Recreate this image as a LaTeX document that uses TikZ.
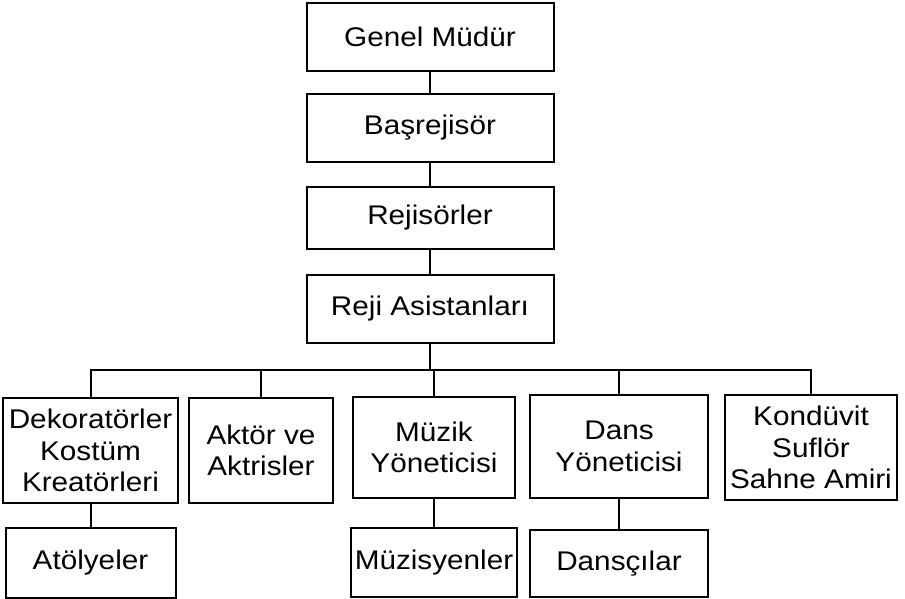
\documentclass[tikz,border=0pt]{standalone}
\usepackage{fontspec}
\setmainfont{Liberation Sans}[FakeStretch=1.1]
\tikzset{% 
	thick/.style = {line width = 1pt},
	every edge/.append style={thick},
	unit/.style = {name = #1, rectangle, draw, thick, align = center, inner sep = 2pt, font = \fontsize{13.5}{15.8}\selectfont}
}

\begin{document}
\begin{tikzpicture}[x=0.5pt, y=-0.5pt]
			\useasboundingbox (0,0) rectangle (905,599);
			\node [unit = {gm}, minimum width = 123.5pt, minimum height = 34pt] at (430,37) {Genel Müdür};
			\node [unit = {br}, minimum width = 123.5pt, minimum height = 34pt] at (430,128) {Başrejisör};
			\node [unit = {rj}, minimum width = 123.5pt, minimum height = 31pt] at (430,218) {Rejisörler};
			\node [unit = {ra}, minimum width = 123.5pt, minimum height = 34pt] at (430,309) {Reji Asistanları};
			\node [unit = {dek}, minimum width = 87.5pt, minimum height = 52.5pt] at (90.5,450.5) {Dekoratörler\\Kostüm\\Kreatörleri};
			\node [unit = {akt}, minimum width = 72pt, minimum height = 52.5pt] at (261,450.5) {Aktör ve\\Aktrisler};
			\node [unit = {muz}, minimum width = 81pt, minimum height = 50.5pt] at (434,447.5) {Müzik\\Yöneticisi};
			\node [unit = {dans}, minimum width = 89pt, minimum height = 51.5pt] at (619,446.5) {Dans\\Yöneticisi};
			\node [unit = {kon}, minimum width = 86pt, minimum height = 52.5pt] at (811,447.5) {Kondüvit\\Suflör\\Sahne Amiri};
			\node [unit = {ato}, minimum width = 85pt, minimum height = 35pt] at (90.5,563) {Atölyeler};
			\node [unit = {muzs}, minimum width = 79pt, minimum height = 34.5pt] at (434,562.5) {Müzisyenler};
			\node [unit = {dansc}, minimum width = 89pt, minimum height = 33.5pt] at (619,563.5) {Dansçılar};
			\coordinate (bus) at (430,370);
			\path (gm) edge (br);
			\path (br) edge (rj);
			\path (rj) edge (ra);
			\path (ra) edge (bus);
			\foreach \n in {dek, akt, muz, dans, kon}
				\draw [thick] (bus) -| (\n.north);
			\path (dek) edge (ato);
			\path (muz) edge (muzs);
			\path (dans) edge (dansc);
			\end{tikzpicture}
\end{document}
